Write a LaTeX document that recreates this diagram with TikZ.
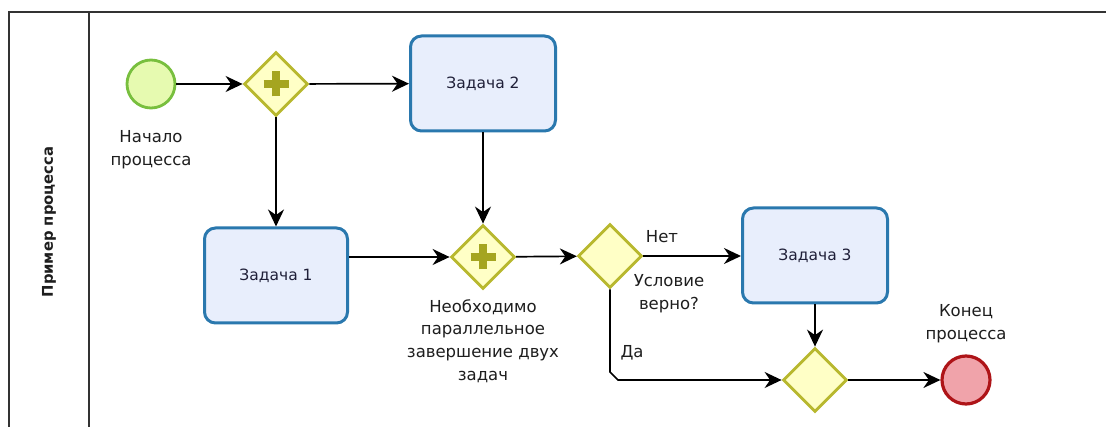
\documentclass[tikz,border=0pt]{standalone}
\usepackage{fontspec}
\setmainfont{DejaVu Sans}
\usetikzlibrary{shapes.geometric,arrows.meta}

\definecolor{startfill}{HTML}{E6FAB0}
\definecolor{startline}{HTML}{78BF3E}
\definecolor{gwfill}{HTML}{FFFFC6}
\definecolor{gwline}{HTML}{B8B82E}
\definecolor{gwplus}{HTML}{A5A520}
\definecolor{taskfill}{HTML}{E8EEFC}
\definecolor{taskline}{HTML}{2A78AE}
\definecolor{endfill}{HTML}{F0A3AA}
\definecolor{endline}{HTML}{AE1418}
\definecolor{ink}{HTML}{1E1E1E}
\definecolor{taskink}{HTML}{1F1F38}
\definecolor{poolline}{HTML}{333333}

\begin{document}
\begin{tikzpicture}[x=1pt,y=-1pt,
  every node/.style={text=ink},
  txt/.style={font=\fontsize{16.5}{22.7}\selectfont, align=center, inner sep=0pt},
  pool/.style={draw=poolline, line width=2.2pt},
  lanelabel/.style={font=\fontsize{14.8}{17}\selectfont\bfseries, inner sep=0pt},
  startev/.style={circle, draw=startline, fill=startfill, line width=2.8pt, minimum size=48pt, inner sep=0pt},
  endev/.style={circle, draw=endline, fill=endfill, line width=3.2pt, minimum size=48pt, inner sep=0pt},
  gateway/.style={diamond, draw=gwline, fill=gwfill, line width=2.8pt, minimum width=64pt, minimum height=64pt, inner sep=0pt},
  task/.style={rectangle, rounded corners=11pt, draw=taskline, fill=taskfill, line width=3pt,
    minimum width=145pt, minimum height=95pt, align=center, inner sep=0pt,
    text=taskink, font=\fontsize{15.5}{18}\selectfont},
  plus/.style={draw=gwplus, line width=8pt},
  flow/.style={draw=black, line width=1.7pt, -{Stealth[length=17pt,width=16pt,inset=5.5pt]}}
]
\useasboundingbox (0,0) rectangle (1106,427);
\fill[white] (0,0) rectangle (1106,427);

% pool and lane
\draw[pool] (1106,12) -- (9,12) -- (9,428);
\draw[pool] (89,12) -- (89,428);
\node[lanelabel, rotate=90] (lane) at (49,222) {Пример процесса};

% events, gateways and tasks
\node[startev] (start) at (151,84) {};
\node[gateway] (g1) at (276,84) {};
\node[task] (t2) at (483,83.5) {Задача 2};
\node[task, minimum width=143pt] (t1) at (276,275.5) {Задача 1};
\node[gateway] (g2) at (483,257) {};
\node[gateway] (g3) at (610,256) {};
\node[task] (t3) at (815,255.5) {Задача 3};
\node[gateway] (g4) at (815,380) {};
\node[endev] (end) at (966,380) {};

% plus markers of the parallel gateways
\draw[plus] ([xshift=-12.5pt]g1.center) -- ([xshift=12.5pt]g1.center);
\draw[plus] ([yshift=-12.5pt]g1.center) -- ([yshift=12.5pt]g1.center);
\draw[plus] ([xshift=-12.5pt]g2.center) -- ([xshift=12.5pt]g2.center);
\draw[plus] ([yshift=-12.5pt]g2.center) -- ([yshift=12.5pt]g2.center);

% labels
\node[txt] (lstart) at (151,150) {Начало\\процесса};
\node[txt] (lg2) at (483,341) {Необходимо\\параллельное\\завершение двух\\задач};
\node[txt] (lno) at (662,237) {Нет};
\node[txt] (lg3) at (669,294) {Условие\\верно?};
\node[txt] (lyes) at (632,353) {Да};
\node[txt] (lend) at (966,324) {Конец\\процесса};

% sequence flows
\draw[flow] (start) -- (g1);
\draw[flow] (g1) -- (t2);
\draw[flow] (g1.south) -- (t1.north);
\draw[flow] (t2.south) -- (g2.north);
\draw[flow] (t1.east |- g2.west) -- (g2.west);
\draw[flow] (g2) -- (g3);
\draw[flow] (g3.east) -- (t3.west |- g3.east);
\draw[flow] (t3.south) -- (g4.north);
\coordinate (bend1) at (610,372);
\coordinate (bend2) at (618,380);
\draw[flow] (g3.south) -- (bend1) -- (bend2) -- (g4.west);
\draw[flow] (g4) -- (end);
\end{tikzpicture}
\end{document}
